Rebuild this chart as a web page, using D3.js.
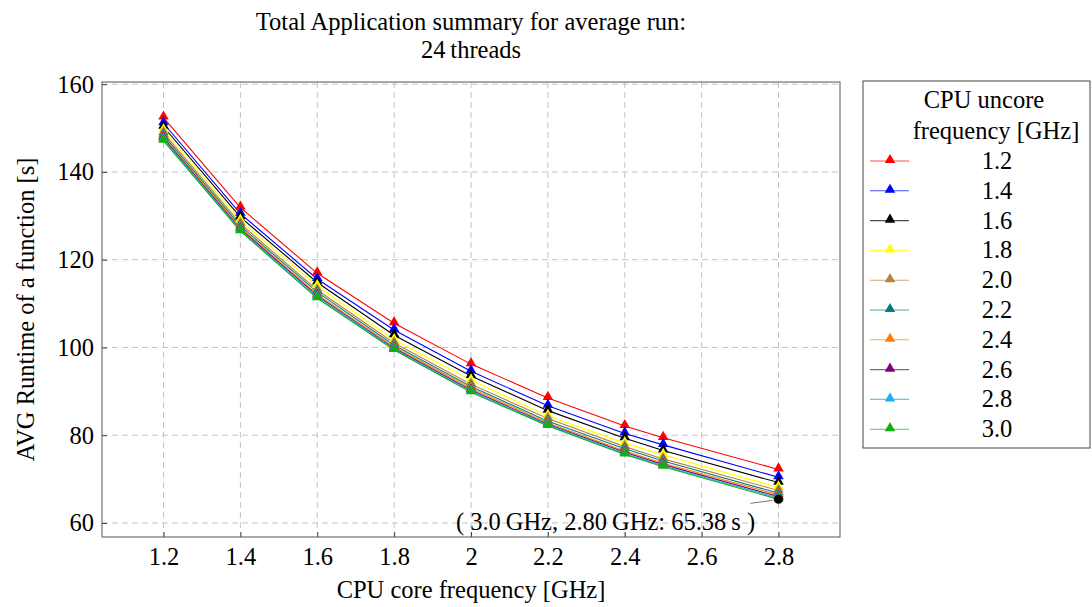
<!DOCTYPE html>
<html>
<head>
<meta charset="utf-8">
<script src="https://cdn.jsdelivr.net/npm/d3@7"></script>
<style>
  body { margin: 0; background: #fff; }
</style>
</head>
<body>
<div id="chart"></div>
<script>
// core frequencies on the x axis
var coreFreq = [1.2, 1.4, 1.6, 1.8, 2.0, 2.2, 2.4, 2.5, 2.8];
var xTicks = [1.2, 1.4, 1.6, 1.8, 2.0, 2.2, 2.4, 2.6, 2.8];
var yTicks = [60, 80, 100, 120, 140, 160];

// one series per uncore frequency
var uncoreLabels = ["1.2", "1.4", "1.6", "1.8", "2.0", "2.2", "2.4", "2.6", "2.8", "3.0"];
var uncore12 = [152.4, 131.9, 116.9, 105.5, 96.2, 88.5, 82.1, 79.4, 72.2];
var uncore14 = [151.1, 130.5, 115.6, 104.0, 94.6, 86.7, 80.4, 77.8, 70.4];
var uncore16 = [150.3, 129.7, 114.8, 102.8, 93.5, 85.6, 79.3, 76.5, 69.2];
var uncore18 = [149.5, 128.9, 114.0, 101.7, 92.5, 84.4, 78.2, 75.5, 68.1];
var uncore20 = [148.9, 128.2, 113.1, 101.0, 91.6, 83.8, 77.4, 74.6, 67.4];
var uncore22 = [148.4, 127.7, 112.6, 100.5, 91.1, 83.2, 76.9, 74.1, 66.8];
var uncore24 = [148.0, 127.3, 112.1, 100.1, 90.7, 82.8, 76.4, 73.6, 66.4];
var uncore26 = [147.7, 127.0, 111.8, 99.8, 90.3, 82.5, 76.1, 73.3, 66.0];
var uncore28 = [147.4, 126.7, 111.5, 99.6, 90.0, 82.3, 75.8, 73.0, 65.7];
var uncore30 = [147.1, 126.5, 111.2, 99.4, 89.8, 82.1, 75.6, 72.8, 65.38];
var seriesValues = [uncore12, uncore14, uncore16, uncore18, uncore20,
                    uncore22, uncore24, uncore26, uncore28, uncore30];
var colors = ["#ff0000", "#0000ff", "#000000", "#ffff00", "#bf8040",
              "#008080", "#ff8000", "#800080", "#19b2f0", "#10b010"];

// minimum point annotation
var minPoint = {x: 2.8, y: 65.38, text: "( 3.0\u2009GHz, 2.80\u2009GHz: 65.38\u2009s )"};

var FONT = "'Liberation Serif', 'Times New Roman', Times, 'DejaVu Serif', serif";

var W = 1092, H = 607;
var margin = {top: 82, right: 252, bottom: 70, left: 102},
    width = W - margin.left - margin.right,
    height = H - margin.top - margin.bottom;

var svgRoot = d3.select("#chart").append("svg")
    .attr("width", W).attr("height", H);

var svg = svgRoot.append("g")
    .attr("transform", "translate(" + margin.left + "," + margin.top + ")");

var x = d3.scaleLinear().domain([1.04, 2.96]).range([0, width]);
var y = d3.scaleLinear().domain([56.8, 160.5]).range([height, 0]);

// grid
svg.append("g").selectAll("line").data(xTicks).enter().append("line")
    .attr("x1", function(d) { return x(d); }).attr("x2", function(d) { return x(d); })
    .attr("y1", 0).attr("y2", height)
    .attr("stroke", "#c4c4c4").attr("stroke-dasharray", "6,4");
svg.append("g").selectAll("line").data(yTicks).enter().append("line")
    .attr("y1", function(d) { return y(d); }).attr("y2", function(d) { return y(d); })
    .attr("x1", 0).attr("x2", width)
    .attr("stroke", "#c4c4c4").attr("stroke-dasharray", "6,4");

// axes (ticks pointing inward like pgfplots)
var xAxis = svg.append("g").attr("transform", "translate(0," + height + ")")
    .call(d3.axisBottom(x).tickValues(xTicks).tickSize(-5).tickPadding(11)
      .tickFormat(function(d) { return d === 2 ? "2" : d3.format(".1f")(d); }));
var yAxis = svg.append("g")
    .call(d3.axisLeft(y).tickValues(yTicks).tickSize(-5).tickPadding(8));
[xAxis, yAxis].forEach(function(a) {
  a.attr("font-family", null).attr("font-size", null);
  a.select(".domain").remove();
  a.selectAll("line").attr("stroke", "#444");
  a.selectAll("text").attr("fill", "#000");
});

// frame
svg.append("rect").attr("width", width).attr("height", height)
  .attr("fill", "none").attr("stroke", "#555").attr("stroke-width", 1);

var tri = d3.symbol().type(d3.symbolTriangle).size(48);

// series lines and markers
var line = d3.line()
  .x(function(d, i) { return x(coreFreq[i]); })
  .y(function(d) { return y(d); });

seriesValues.forEach(function(vals, k) {
  svg.append("path").datum(vals)
    .attr("fill", "none").attr("stroke", colors[k]).attr("stroke-width", 1.1)
    .attr("d", line);
});
seriesValues.forEach(function(vals, k) {
  svg.append("g").selectAll("path").data(vals).enter().append("path")
    .attr("d", tri)
    .attr("fill", colors[k])
    .attr("transform", function(d, i) { return "translate(" + x(coreFreq[i]) + "," + (y(d) - 1) + ")"; });
});

// min annotation
var mx = x(minPoint.x), my = y(minPoint.y);
svg.append("line")
  .attr("x1", mx - 28).attr("y1", my + 4).attr("x2", mx - 6).attr("y2", my + 1)
  .attr("stroke", "#777").attr("stroke-width", 1);
svg.append("circle").attr("cx", mx).attr("cy", my).attr("r", 4.5).attr("fill", "#000");
svg.append("text").attr("x", mx - 173).attr("y", my + 31)
  .attr("text-anchor", "middle")
  .text(minPoint.text);

// titles
svgRoot.append("text").attr("x", margin.left + width / 2).attr("y", 30)
  .attr("text-anchor", "middle")
  .text("Total Application summary for average run:");
svgRoot.append("text").attr("x", margin.left + width / 2).attr("y", 58)
  .attr("text-anchor", "middle")
  .text("24\u2009threads");
svgRoot.append("text").attr("x", margin.left + width / 2).attr("y", 598)
  .attr("text-anchor", "middle")
  .text("CPU core frequency [GHz]");
svgRoot.append("text")
  .attr("transform", "translate(34," + (margin.top + height / 2) + ") rotate(-90)")
  .attr("text-anchor", "middle")
  .text("AVG Runtime of a function [s]");

// legend
var legend = svgRoot.append("g").attr("transform", "translate(863,81)");
legend.append("rect").attr("width", 227).attr("height", 367)
  .attr("fill", "#fff").attr("stroke", "#444");
legend.append("text").attr("x", 121).attr("y", 27).attr("text-anchor", "middle")
  .text("CPU uncore");
legend.append("text").attr("x", 133).attr("y", 58).attr("text-anchor", "middle")
  .text("frequency [GHz]");
uncoreLabels.forEach(function(lab, k) {
  var ly = 80 + k * 29.8;
  legend.append("line").attr("x1", 7).attr("x2", 46).attr("y1", ly).attr("y2", ly)
    .attr("stroke", colors[k]).attr("stroke-opacity", 0.7).attr("stroke-width", 1.1);
  legend.append("path").attr("d", tri).attr("fill", colors[k])
    .attr("transform", "translate(27," + (ly - 1) + ")");
  legend.append("text").attr("x", 134).attr("y", ly + 8).attr("text-anchor", "middle")
    .text(lab);
});

// serif font on every label
svgRoot.selectAll("text")
  .style("font-family", FONT)
  .style("font-size", "24.5px");
</script>
</body>
</html>
